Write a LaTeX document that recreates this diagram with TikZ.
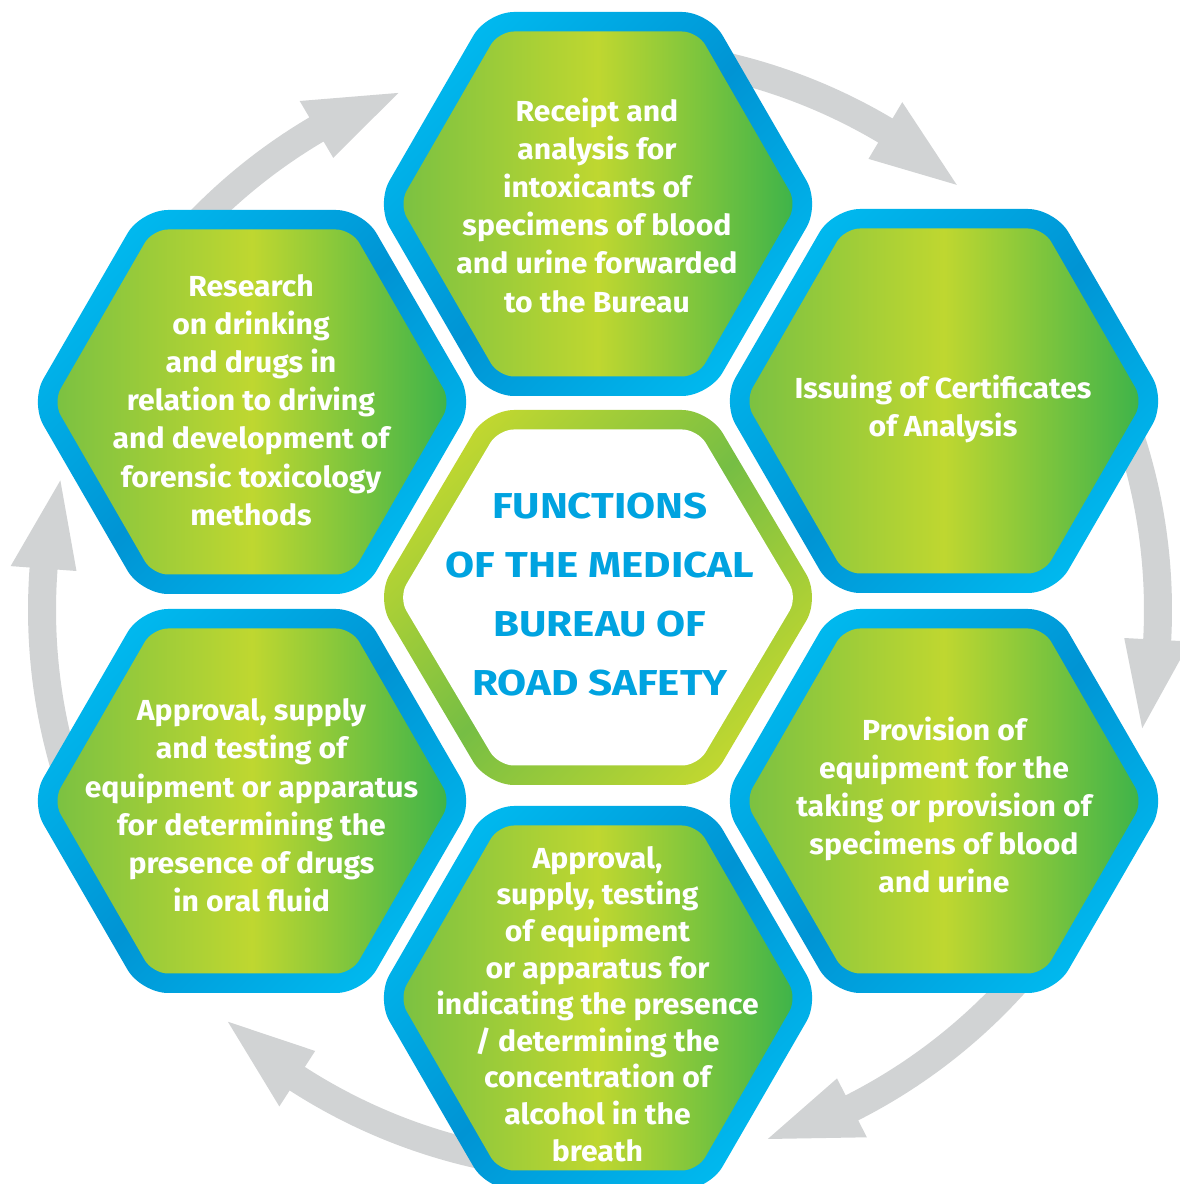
\documentclass[tikz,border=0pt]{standalone}
\usepackage{fontspec}
\setmainfont{Fira Sans}[FakeStretch=1.04]
\newfontfamily\titlefont{Fira Sans}[FakeStretch=1.17]
\definecolor{arrowgray}{RGB}{209,211,212}
\definecolor{cyanL}{RGB}{0,184,238}
\definecolor{blueD}{RGB}{0,148,212}
\definecolor{gL}{RGB}{122,193,66}
\definecolor{gM}{RGB}{191,215,48}
\definecolor{gR}{RGB}{60,179,74}
\definecolor{ringY}{RGB}{192,215,48}
\definecolor{ringG}{RGB}{118,190,68}
\definecolor{titleblue}{RGB}{0,163,224}
\newcommand\hexpath[4]{(#1,#2+#4) -- (#1-#3/2,#2+#4) -- (#1-#3,#2) -- (#1-#3/2,#2-#4) -- (#1+#3/2,#2-#4) -- (#1+#3,#2) -- (#1+#3/2,#2+#4) -- cycle}
\newcommand\cyclearrow[1]{%
  \fill[arrowgray] ({#1+45}:572) arc[start angle={#1+45}, end angle={#1+9.24}, radius=572]
    -- ({#1+9.24}:591) -- (#1:555) -- ({#1+9.24}:525) -- ({#1+9.24}:544)
    arc[start angle={#1+9.24}, end angle={#1+45}, radius=544] -- cycle;}
\newcommand\funchex[2]{%
  \shade[hexborder, rounded corners=27pt] \hexpath{#1}{#2}{222}{192};
  \shade[hexfill, rounded corners=15.5pt] \hexpath{#1}{#2}{199}{172.5};}
\tikzset{
  hexborder/.style={top color=cyanL, bottom color=cyanL, middle color=blueD, shading angle=45},
  hexfill/.style={left color=gL, right color=gR, middle color=gM},
  ringstyle/.style={top color=ringY, bottom color=ringY, middle color=ringG, shading angle=45},
  fntext/.style={text=white, font=\bfseries\fontsize{29}{38.2}\selectfont, align=center, inner sep=0pt},
  fntextb/.style={text=white, font=\bfseries\fontsize{29}{36.6}\selectfont, align=center, inner sep=0pt},
  centertext/.style={text=titleblue, font=\titlefont\bfseries\fontsize{36}{59}\selectfont, align=center, inner sep=0pt}
}
\begin{document}
\begin{tikzpicture}[x=1pt, y=1pt]
\path[use as bounding box, clip] (0,0) rectangle (1180,1184);
\fill[white] (0,0) rectangle (1180,1184);
% cycle arrows
\begin{scope}[shift={(600,574)}]
  \cyclearrow{50}
  \cyclearrow{-12.3}
  \cyclearrow{-72.4}
  \cyclearrow{-132.1}
  \cyclearrow{166.5}
  \cyclearrow{111.3}
\end{scope}
% centre hexagon
\shade[ringstyle, rounded corners=27pt] \hexpath{598}{586.5}{222}{187.5};
\fill[white, rounded corners=15.5pt] \hexpath{598}{586.5}{199.5}{168};
% function hexagons
\funchex{598}{980}
\funchex{944}{783}
\funchex{944}{383}
\funchex{598}{186}
\funchex{252}{383}
\funchex{252}{782}
% texts
\node[centertext] (centre) at (600,589.5) {FUNCTIONS\\OF THE MEDICAL\\BUREAU OF\\ROAD SAFETY};
\node[fntext] (receipt) at (597,979) {Receipt and\\analysis for\\intoxicants of\\specimens of blood\\and urine forwarded\\to the Bureau};
\node[fntext] (issuing) at (943,775) {Issuing of Certificates\\of Analysis};
\node[fntext] (provision) at (944,379) {Provision of\\equipment for the\\taking or provision of\\specimens of blood\\and urine};
\node[fntextb] (breath) at (597.5,180) {Approval,\\supply, testing\\of equipment\\or apparatus for\\indicating the presence\\/ determining the\\concentration of\\alcohol in the\\breath};
\node[fntext] (oral) at (251.5,378.5) {Approval, supply\\and testing of\\equipment or apparatus\\for determining the\\presence of drugs\\in oral fluid};
\node[fntext] (research) at (251,784) {Research\\on drinking\\and drugs in\\relation to driving\\and development of\\forensic toxicology\\methods};
\end{tikzpicture}
\end{document}
